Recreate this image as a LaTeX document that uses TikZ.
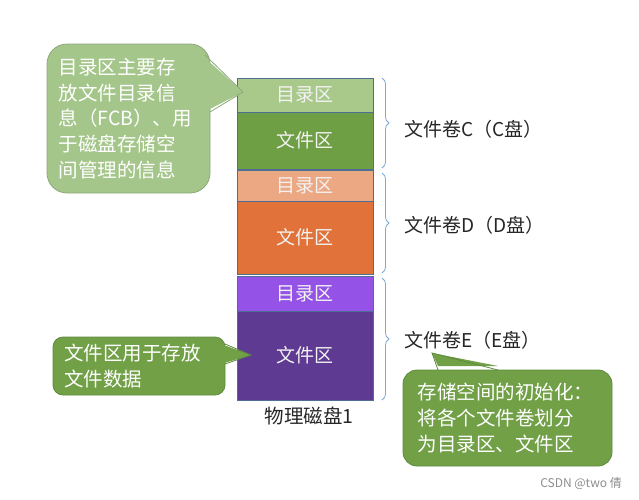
\documentclass[tikz,border=0pt]{standalone}
\usepackage{fontspec}
\setmainfont{Noto Sans CJK SC}
\usetikzlibrary{decorations.pathreplacing}
\definecolor{cgA}{HTML}{A9C98A}
\definecolor{cgB}{HTML}{6F9F45}
\definecolor{coA}{HTML}{ECA883}
\definecolor{coB}{HTML}{E1733A}
\definecolor{cpA}{HTML}{9453E6}
\definecolor{cpB}{HTML}{5E3A92}
\definecolor{diskline}{HTML}{4E6F95}
\definecolor{bracec}{HTML}{7FA7D3}
\definecolor{calloutA}{HTML}{A5C68A}
\definecolor{calloutAline}{HTML}{8DA87A}
\definecolor{calloutB}{HTML}{71A047}
\definecolor{calloutBline}{HTML}{5F8A3E}
\definecolor{labelc}{HTML}{262626}
\begin{document}
\begin{tikzpicture}[x=1pt,y=-1pt,
  blk/.style={draw=diskline, line width=0.6pt, minimum width=136pt, inner sep=0pt,
    text=white!95!black, font=\fontsize{19}{22}\selectfont},
  vbrace/.style={draw=bracec, line width=0.8pt, decorate, decoration={brace, amplitude=7pt}},
  vlabel/.style={anchor=west, text=labelc, font=\fontsize{19}{22}\selectfont, inner sep=0pt},
  callbox/.style={rounded corners=14pt, inner sep=0pt, line width=0.8pt, text=white,
    font=\fontsize{19.5}{25.8}\selectfont, align=left},
]
\useasboundingbox (0,0) rectangle (639,499);

% disk blocks
\node[blk, fill=cgA, minimum height=34pt] (c1) at (305,95) {目录区};
\node[blk, fill=cgB, minimum height=57pt] (c2) at (305,140.5) {文件区};
\node[blk, fill=coA, minimum height=31pt] (d1) at (305,185.5) {目录区};
\node[blk, fill=coB, minimum height=73pt] (d2) at (305,237.5) {文件区};
\node[blk, fill=cpA, minimum height=35pt] (e1) at (305,293.5) {目录区};
\node[blk, fill=cpB, minimum height=89pt] (e2) at (305,355.5) {文件区};
\node[text=labelc, font=\fontsize{19.5}{22}\selectfont, inner sep=0pt] (disk) at (309,416) {物理磁盘1};

% braces
\coordinate (bc1) at (382,78);  \coordinate (bc2) at (382,168);
\coordinate (bd1) at (382,173); \coordinate (bd2) at (382,273);
\coordinate (be1) at (382,278); \coordinate (be2) at (382,400);
\draw[vbrace] (bc1) -- (bc2);
\draw[vbrace] (bd1) -- (bd2);
\draw[vbrace] (be1) -- (be2);
\node[vlabel] (vc) at (404,129) {文件卷C（C盘）};
\node[vlabel] (vd) at (404,225) {文件卷D（D盘）};
\node[vlabel] (ve) at (404,340) {文件卷E（E盘）};

% callout 1
\node[callbox, rounded corners=20pt, fill=calloutA, draw=calloutAline, minimum width=163pt, minimum height=149pt,
  text width=140pt] (k1) at (128.5,118.5) {目录区主要存\\放文件目录信\\息（FCB）、用\\于磁盘存储空\\间管理的信息};
\coordinate (t1) at (243,92);
\coordinate (a1) at (205,55);
\coordinate (b1) at (210,112);
\fill[calloutA] ([shift={(-10pt,6pt)}]a1) -- (t1) -- ([xshift=-6pt]b1) -- cycle;
\draw[calloutAline, line width=0.8pt] (a1) -- (t1) -- (b1);

% callout 2
\node[callbox, rounded corners=10pt, fill=calloutB, draw=calloutBline, minimum width=172pt, minimum height=58pt,
  text width=150pt] (k2) at (139,366) {文件区用于存放\\文件数据};
\coordinate (t2) at (251,355);
\coordinate (a2) at (225,344);
\coordinate (b2) at (225,364);
\fill[calloutB] ([xshift=-4pt]a2) -- (t2) -- ([xshift=-4pt]b2) -- cycle;
\draw[calloutBline, line width=0.8pt] (a2) -- (t2) -- (b2);

% callout 3
\node[callbox, fill=calloutB, draw=calloutBline, minimum width=209pt, minimum height=96pt,
  text width=180pt] (k3) at (507.5,418) {存储空间的初始化：\\将各个文件卷划分\\为目录区、文件区};
\coordinate (t3) at (432,353);
\coordinate (a3) at (438,370);
\coordinate (b3) at (498,370);
\fill[calloutB] (t3) -- ([yshift=4pt]a3) -- ([yshift=4pt]b3) -- cycle;
\draw[calloutBline, line width=0.8pt] (a3) -- (t3) -- (b3);

% watermark
\node[anchor=east, text=black!45, font=\fontsize{12}{14}\selectfont, inner sep=0pt] (wm) at (622,483) {CSDN @two 倩};
\end{tikzpicture}
\end{document}
